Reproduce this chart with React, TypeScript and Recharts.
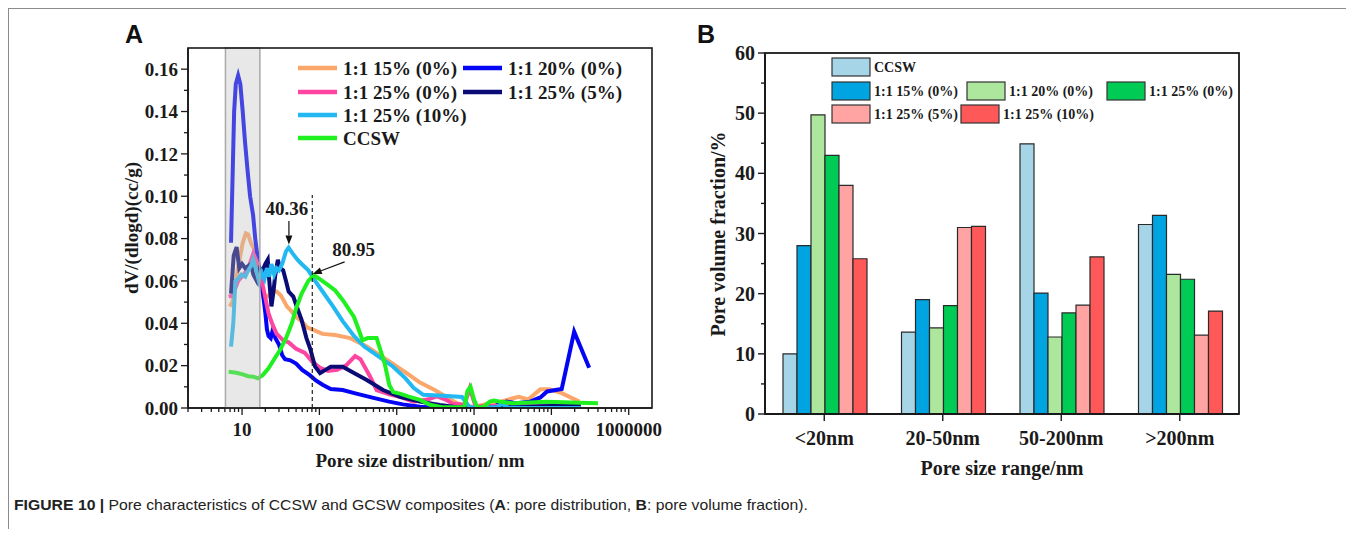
import {
  LineChart,
  Line,
  XAxis,
  YAxis,
  ReferenceArea,
  ReferenceLine,
  BarChart,
  Bar,
} from "recharts";

// Figure 10 — pore characteristics of CCSW / GCSW composites.
// Panel A: pore size distribution (log x), panel B: pore volume fraction bars.

type Pt = { x: number; y: number };

// ---- Panel A series (x = pore size / nm, y = dV/(dlogd) cc/g)
const s15_0: Pt[] = [
  { x: 6.9, y: 0.048 }, { x: 7.5, y: 0.05 }, { x: 8.5, y: 0.062 }, { x: 9.5, y: 0.072 },
  { x: 10.2, y: 0.078 }, { x: 11.2, y: 0.0825 }, { x: 12, y: 0.082 }, { x: 13, y: 0.078 },
  { x: 14.5, y: 0.0746 }, { x: 15.5, y: 0.068 }, { x: 17, y: 0.062 }, { x: 18, y: 0.056 },
  { x: 19, y: 0.052 }, { x: 22, y: 0.053 }, { x: 25, y: 0.055 }, { x: 28, y: 0.055 },
  { x: 32, y: 0.053 }, { x: 38, y: 0.048 }, { x: 44, y: 0.0455 }, { x: 50, y: 0.043 },
  { x: 59, y: 0.041 }, { x: 70, y: 0.038 }, { x: 88, y: 0.0365 }, { x: 110, y: 0.035 },
  { x: 160, y: 0.0345 }, { x: 250, y: 0.033 }, { x: 410, y: 0.029 }, { x: 750, y: 0.0227 },
  { x: 1350, y: 0.0164 }, { x: 2000, y: 0.012 }, { x: 3100, y: 0.0085 }, { x: 4500, y: 0.005 },
  { x: 6000, y: 0.0023 }, { x: 8000, y: 0.001 }, { x: 10000, y: 0.0005 }, { x: 15000, y: 0.002 },
  { x: 22000, y: 0.003 }, { x: 31000, y: 0.0045 }, { x: 38000, y: 0.0053 }, { x: 50000, y: 0.004 },
  { x: 72000, y: 0.0088 }, { x: 95000, y: 0.0088 }, { x: 136000, y: 0.007 }, { x: 230000, y: 0.003 },
];

const s20_0: Pt[] = [
  { x: 7.2, y: 0.078 }, { x: 7.9, y: 0.14 }, { x: 8.3, y: 0.153 }, { x: 8.9, y: 0.157 },
  { x: 9.5, y: 0.153 }, { x: 10.2, y: 0.14 }, { x: 10.9, y: 0.126 }, { x: 11.8, y: 0.112 },
  { x: 12.7, y: 0.1 }, { x: 13.9, y: 0.091 }, { x: 14.8, y: 0.08 }, { x: 16, y: 0.07 },
  { x: 17, y: 0.064 }, { x: 18.5, y: 0.055 }, { x: 20, y: 0.045 }, { x: 21, y: 0.037 },
  { x: 22, y: 0.034 }, { x: 23.5, y: 0.033 }, { x: 25, y: 0.037 }, { x: 27, y: 0.033 },
  { x: 30, y: 0.03 }, { x: 33, y: 0.025 }, { x: 36, y: 0.023 }, { x: 42, y: 0.0225 },
  { x: 50, y: 0.021 }, { x: 60, y: 0.018 }, { x: 75, y: 0.0155 }, { x: 90, y: 0.013 },
  { x: 110, y: 0.011 }, { x: 140, y: 0.009 }, { x: 200, y: 0.0085 }, { x: 300, y: 0.0068 },
  { x: 500, y: 0.0048 }, { x: 800, y: 0.003 }, { x: 1200, y: 0.0017 }, { x: 2000, y: 0.0006 },
  { x: 3500, y: 0 }, { x: 10000, y: 0 }, { x: 17700, y: 0.0005 }, { x: 22000, y: 0.0022 },
  { x: 26500, y: 0.003 }, { x: 35000, y: 0.0022 }, { x: 53000, y: 0.003 }, { x: 72000, y: 0.005 },
  { x: 88000, y: 0.0078 }, { x: 136000, y: 0.009 }, { x: 197000, y: 0.036 }, { x: 308000, y: 0.019 },
];

const s25_0: Pt[] = [
  { x: 6.7, y: 0.0526 }, { x: 7.5, y: 0.053 }, { x: 8.9, y: 0.06 }, { x: 10.5, y: 0.063 },
  { x: 12, y: 0.066 }, { x: 14, y: 0.073 }, { x: 15.5, y: 0.069 }, { x: 17, y: 0.064 },
  { x: 19, y: 0.056 }, { x: 22, y: 0.0447 }, { x: 25, y: 0.039 }, { x: 28, y: 0.035 },
  { x: 34, y: 0.032 }, { x: 40, y: 0.031 }, { x: 50, y: 0.028 }, { x: 65, y: 0.026 },
  { x: 80, y: 0.022 }, { x: 102, y: 0.019 }, { x: 130, y: 0.0175 }, { x: 170, y: 0.018 },
  { x: 220, y: 0.02 }, { x: 290, y: 0.0245 }, { x: 340, y: 0.023 }, { x: 450, y: 0.015 },
  { x: 550, y: 0.0085 }, { x: 800, y: 0.0065 }, { x: 1100, y: 0.0053 }, { x: 1650, y: 0.003 },
  { x: 2500, y: 0.004 }, { x: 3300, y: 0.0055 }, { x: 4300, y: 0.004 }, { x: 5300, y: 0.002 },
  { x: 7500, y: 0.0015 }, { x: 8800, y: 0.0093 }, { x: 10500, y: 0.0006 }, { x: 15000, y: 0.001 },
  { x: 50000, y: 0.0008 }, { x: 240000, y: 0.0008 },
];

const s25_5: Pt[] = [
  { x: 7.2, y: 0.054 }, { x: 7.8, y: 0.072 }, { x: 8.5, y: 0.076 }, { x: 9.2, y: 0.066 },
  { x: 10, y: 0.068 }, { x: 11, y: 0.066 }, { x: 12, y: 0.067 }, { x: 13, y: 0.068 },
  { x: 14, y: 0.063 }, { x: 15.5, y: 0.06 }, { x: 17, y: 0.066 }, { x: 18.5, y: 0.065 },
  { x: 20, y: 0.068 }, { x: 21.5, y: 0.07 }, { x: 22.5, y: 0.06 }, { x: 24, y: 0.048 },
  { x: 25.5, y: 0.055 }, { x: 26.7, y: 0.062 }, { x: 29, y: 0.07 }, { x: 31, y: 0.066 },
  { x: 34, y: 0.065 }, { x: 37, y: 0.06 }, { x: 40, y: 0.055 }, { x: 46, y: 0.0526 },
  { x: 52, y: 0.047 }, { x: 59, y: 0.0415 }, { x: 68, y: 0.033 }, { x: 76, y: 0.028 },
  { x: 88, y: 0.0195 }, { x: 102, y: 0.0165 }, { x: 120, y: 0.018 }, { x: 140, y: 0.0195 },
  { x: 200, y: 0.0195 }, { x: 280, y: 0.0165 }, { x: 410, y: 0.0132 }, { x: 665, y: 0.0085 },
  { x: 1100, y: 0.0053 }, { x: 2000, y: 0.003 }, { x: 3600, y: 0.0014 }, { x: 6000, y: 0.0004 },
  { x: 10000, y: 0 }, { x: 30000, y: 0.0005 }, { x: 100000, y: 0.001 }, { x: 240000, y: 0.0015 },
];

const s25_10: Pt[] = [
  { x: 7.2, y: 0.029 }, { x: 7.7, y: 0.04 }, { x: 8.2, y: 0.06 }, { x: 8.9, y: 0.061 },
  { x: 9.8, y: 0.063 }, { x: 11, y: 0.062 }, { x: 12, y: 0.065 }, { x: 13, y: 0.067 },
  { x: 13.9, y: 0.07 }, { x: 15, y: 0.066 }, { x: 16.5, y: 0.06 }, { x: 18, y: 0.064 },
  { x: 19.5, y: 0.061 }, { x: 21, y: 0.066 }, { x: 22.5, y: 0.062 }, { x: 24, y: 0.068 },
  { x: 26, y: 0.063 }, { x: 28, y: 0.066 }, { x: 30, y: 0.065 }, { x: 33, y: 0.068 },
  { x: 37, y: 0.074 }, { x: 40, y: 0.0757 }, { x: 45, y: 0.073 }, { x: 52, y: 0.07 },
  { x: 59, y: 0.068 }, { x: 72, y: 0.065 }, { x: 88, y: 0.06 }, { x: 110, y: 0.055 },
  { x: 150, y: 0.048 }, { x: 200, y: 0.041 }, { x: 280, y: 0.034 }, { x: 380, y: 0.029 },
  { x: 500, y: 0.026 }, { x: 900, y: 0.0195 }, { x: 1300, y: 0.014 }, { x: 1650, y: 0.0095 },
  { x: 2200, y: 0.0062 }, { x: 4000, y: 0.0058 }, { x: 7000, y: 0.0052 }, { x: 8700, y: 0.0005 },
  { x: 12000, y: 0 }, { x: 20000, y: 0.0005 }, { x: 23000, y: 0.002 }, { x: 27000, y: 0.0003 },
  { x: 50000, y: 0 }, { x: 240000, y: 0 },
];

const ccsw: Pt[] = [
  { x: 6.7, y: 0.0171 }, { x: 8, y: 0.0168 }, { x: 8.9, y: 0.0164 }, { x: 10, y: 0.016 },
  { x: 12, y: 0.015 }, { x: 14, y: 0.0148 }, { x: 16, y: 0.014 }, { x: 18.5, y: 0.0155 },
  { x: 22, y: 0.0187 }, { x: 26, y: 0.023 }, { x: 31, y: 0.0274 }, { x: 37, y: 0.033 },
  { x: 44, y: 0.04 }, { x: 50, y: 0.047 }, { x: 59, y: 0.054 }, { x: 72, y: 0.06 },
  { x: 85, y: 0.0628 }, { x: 100, y: 0.061 }, { x: 130, y: 0.058 }, { x: 160, y: 0.0555 },
  { x: 200, y: 0.051 }, { x: 280, y: 0.043 }, { x: 330, y: 0.036 }, { x: 360, y: 0.032 },
  { x: 420, y: 0.033 }, { x: 550, y: 0.033 }, { x: 620, y: 0.027 }, { x: 700, y: 0.021 },
  { x: 800, y: 0.011 }, { x: 900, y: 0.0075 }, { x: 1100, y: 0.0068 }, { x: 1400, y: 0.0055 },
  { x: 2000, y: 0.0038 }, { x: 2700, y: 0.0015 }, { x: 4000, y: 0.0003 }, { x: 7500, y: 0.0003 },
  { x: 8200, y: 0.008 }, { x: 9000, y: 0.01 }, { x: 10000, y: 0.004 }, { x: 11000, y: 0.0005 },
  { x: 13000, y: 0.0003 }, { x: 16000, y: 0.003 }, { x: 18000, y: 0.0035 }, { x: 22000, y: 0.003 },
  { x: 31000, y: 0.0023 }, { x: 88000, y: 0.003 }, { x: 230000, y: 0.0025 }, { x: 400000, y: 0.0022 },
];

const xMajorA = [10, 100, 1000, 10000, 100000, 1000000];
const yTicksA = [0, 0.01, 0.02, 0.03, 0.04, 0.05, 0.06, 0.07, 0.08, 0.09, 0.1, 0.11, 0.12, 0.13, 0.14, 0.15, 0.16];

// ---- Panel B (pore volume fraction, %)
const categories = ["<20nm", "20-50nm", "50-200nm", ">200nm"];
const pctCCSW = [10, 13.6, 44.9, 31.5];
const pct15_0 = [28, 19, 20.1, 33];
const pct20_0 = [49.7, 14.3, 12.8, 23.2];
const pct25_0 = [43, 18, 16.8, 22.4];
const pct25_5 = [38, 31, 18.1, 13.1];
const pct25_10 = [25.8, 31.2, 26.1, 17.1];
const yTicksB = [0, 5, 10, 15, 20, 25, 30, 35, 40, 45, 50, 55, 60];

const serif = "'Liberation Serif', 'Times New Roman', serif";
const sans = "'Liberation Sans', Arial, sans-serif";
const ink = "#1a1a1a";

const seriesA = [
  { name: "1:1 15% (0%)", data: s15_0, color: "#fba66a" },
  { name: "1:1 20% (0%)", data: s20_0, color: "#0505f5" },
  { name: "1:1 25% (0%)", data: s25_0, color: "#ff45a2" },
  { name: "1:1 25% (5%)", data: s25_5, color: "#0b0b78" },
  { name: "1:1 25% (10%)", data: s25_10, color: "#22b8f2" },
  { name: "CCSW", data: ccsw, color: "#1ff01f" },
];

const seriesB = [
  { key: "ccsw", name: "CCSW", values: pctCCSW, color: "#a6d5e8" },
  { key: "p15", name: "1:1 15% (0%)", values: pct15_0, color: "#00a4e0" },
  { key: "p20", name: "1:1 20% (0%)", values: pct20_0, color: "#ade69d" },
  { key: "p25", name: "1:1 25% (0%)", values: pct25_0, color: "#00cc55" },
  { key: "p25_5", name: "1:1 25% (5%)", values: pct25_5, color: "#ffa3a3" },
  { key: "p25_10", name: "1:1 25% (10%)", values: pct25_10, color: "#ff5858" },
];

const barData = categories.map((cat, i) => {
  const row: Record<string, string | number> = { cat };
  seriesB.forEach((s) => (row[s.key] = s.values[i]));
  return row;
});

// minor log ticks 2..9 of every decade, labels only on the powers of ten
const xTicksA = [1, ...xMajorA.slice(0, 5)].flatMap((d) =>
  [2, 3, 4, 5, 6, 7, 8, 9, 10].map((m) => m * d)
);

// chart geometry (root coordinates) — the plot frames are drawn from these
const A = { w: 660, h: 470, top: 40, right: 16, bottom: 40, left: 120, yw: 60, xh: 30 };
const B = { x: 672, w: 580, h: 470, top: 45, right: 21, bottom: 34, left: 35, yw: 50, xh: 30 };

const LogTick = (props: any) => {
  const { x, y, payload } = props;
  const v = payload.value;
  const major = xMajorA.includes(v);
  return (
    <g>
      <line x1={x} x2={x} y1={y} y2={y + (major ? 7 : 4)} stroke={ink} strokeWidth={1.3} />
      {major && (
        <text x={x} y={y + 28} textAnchor="middle" fontFamily={serif} fontWeight="bold" fontSize={19} fill={ink}>
          {v}
        </text>
      )}
    </g>
  );
};

const YTickA = (props: any) => {
  const { x, y, payload } = props;
  const v = payload.value;
  const major = Math.round(v * 100) % 2 === 0;
  return (
    <g>
      <line x1={x - (major ? 7 : 4)} x2={x} y1={y} y2={y} stroke={ink} strokeWidth={1.3} />
      {major && (
        <text x={x - 10} y={y} dy="0.35em" textAnchor="end" fontFamily={serif} fontWeight="bold" fontSize={19} fill={ink}>
          {v.toFixed(2)}
        </text>
      )}
    </g>
  );
};

const YTickB = (props: any) => {
  const { x, y, payload } = props;
  const v = payload.value;
  const major = v % 10 === 0;
  return (
    <g>
      <line x1={x - (major ? 7 : 4)} x2={x} y1={y} y2={y} stroke={ink} strokeWidth={1.4} />
      {major && (
        <text x={x - 10} y={y} dy="0.35em" textAnchor="end" fontFamily={serif} fontWeight="bold" fontSize={20} fill={ink}>
          {v}
        </text>
      )}
    </g>
  );
};

const CatTick = (props: any) => {
  const { x, y, payload } = props;
  return (
    <g>
      <line x1={x} x2={x} y1={y} y2={y + 7} stroke={ink} strokeWidth={1.4} />
      <text x={x} y={y + 31} textAnchor="middle" fontFamily={serif} fontWeight="bold" fontSize={20} fill={ink}>
        {payload.value}
      </text>
    </g>
  );
};

// arrow + value label drawn on a ReferenceLine segment
const arrowShape = (label: string, dx: number, dy: number) => (p: any) => {
  const { x1, y1, x2, y2 } = p;
  const a = Math.atan2(y2 - y1, x2 - x1);
  const L = 9;
  const W = 3.5;
  const bx = x2 - L * Math.cos(a);
  const by = y2 - L * Math.sin(a);
  const pts = `${x2},${y2} ${bx + W * Math.sin(a)},${by - W * Math.cos(a)} ${bx - W * Math.sin(a)},${by + W * Math.cos(a)}`;
  return (
    <g>
      <line x1={x1} y1={y1} x2={bx} y2={by} stroke="#111" strokeWidth={1.2} />
      <polygon points={pts} fill="#111" />
      <text x={x1 + dx} y={y1 + dy} textAnchor="middle" fontFamily={serif} fontWeight="bold" fontSize={19} fill={ink}>
        {label}
      </text>
    </g>
  );
};

// legend layout (root coordinates)
const legendAcols = [290, 455];
const legendArows = [60, 84, 107, 130];
const legendAslots = [[0, 0], [1, 0], [0, 1], [1, 1], [0, 2], [0, 3]];
const legendBpos = [[824, 50], [824, 74], [959, 74], [1099, 74], [824, 97], [953, 97]];

export default function App() {
  const aX = A.left + A.yw;
  const aY = A.top;
  const aW = A.w - A.right - aX;
  const aH = A.h - A.bottom - A.xh - A.top;
  const bX = B.x + B.left + B.yw;
  const bY = B.top;
  const bW = B.w - B.right - B.left - B.yw;
  const bH = B.h - B.bottom - B.xh - B.top;

  return (
    <div style={{ position: "relative", width: 1338, height: 521 }}>
      <style>{"body{overflow:hidden}"}</style>
      <div
        style={{
          position: "absolute", left: 0, top: 0, width: 1341, height: 600,
          borderTop: "1px solid #8c8c8c", borderLeft: "1px solid #8c8c8c", borderRight: "1px solid #8c8c8c",
        }}
      />

      {/* Panel A */}
      <div style={{ position: "absolute", left: 0, top: 0 }}>
        <LineChart
          width={A.w} height={A.h}
          margin={{ top: A.top, right: A.right, bottom: A.bottom, left: A.left }}
        >
          <XAxis
            dataKey="x" type="number" scale="log" domain={[2, 2000000]} allowDataOverflow
            ticks={xTicksA} interval={0} tick={<LogTick />} tickLine={false} tickSize={0} tickMargin={0}
            height={A.xh} axisLine={{ stroke: ink, strokeWidth: 1.6 }}
          />
          <YAxis
            type="number" domain={[0, 0.17]} allowDataOverflow ticks={yTicksA} interval={0}
            tick={<YTickA />} tickLine={false} tickSize={0} tickMargin={0} width={A.yw}
            axisLine={{ stroke: ink, strokeWidth: 1.6 }}
          />
          {seriesA.map((s) => (
            <Line
              key={s.name} data={s.data} dataKey="y" name={s.name} type="linear"
              stroke={s.color} strokeWidth={4} dot={false} isAnimationActive={false}
            />
          ))}
          <ReferenceArea
            x1={6.1} x2={17} fill="#bdbdbd" fillOpacity={0.35} stroke="#a9a9a9" strokeWidth={1.5}
            zIndex={600}
          />
          <ReferenceLine
            segment={[{ x: 80.95, y: 0 }, { x: 80.95, y: 0.1006 }]}
            stroke="#222" strokeWidth={1.2} strokeDasharray="4 3"
          />
          <ReferenceLine
            segment={[{ x: 40.36, y: 0.0883 }, { x: 40.36, y: 0.0772 }]}
            shape={arrowShape("40.36", -2, -6)}
          />
          <ReferenceLine
            segment={[{ x: 212, y: 0.069 }, { x: 82, y: 0.0633 }]}
            shape={arrowShape("80.95", 9, -6)}
          />
        </LineChart>
      </div>

      {/* Panel B */}
      <div style={{ position: "absolute", left: B.x, top: 0 }}>
        <BarChart
          width={B.w} height={B.h} data={barData} barCategoryGap={18} barGap={0}
          margin={{ top: B.top, right: B.right, bottom: B.bottom, left: B.left }}
        >
          <XAxis
            dataKey="cat" tick={<CatTick />} tickLine={false} tickSize={0} tickMargin={0} interval={0}
            height={B.xh} axisLine={{ stroke: ink, strokeWidth: 1.8 }}
          />
          <YAxis
            type="number" domain={[0, 60]} ticks={yTicksB} interval={0} tick={<YTickB />}
            tickLine={false} tickSize={0} tickMargin={0} width={B.yw} axisLine={{ stroke: ink, strokeWidth: 1.8 }}
          />
          {seriesB.map((s) => (
            <Bar
              key={s.key} dataKey={s.key} name={s.name} fill={s.color}
              stroke="#2a2a2a" strokeWidth={1.2} isAnimationActive={false}
            />
          ))}
        </BarChart>
      </div>

      {/* frames, titles, legends, caption */}
      <svg
        width={1338} height={529}
        style={{ position: "absolute", left: 0, top: 0, pointerEvents: "none", overflow: "visible" }}
      >
        <rect x={aX} y={aY} width={aW} height={aH} fill="none" stroke={ink} strokeWidth={1.6} />
        <rect x={bX} y={bY} width={bW} height={bH} fill="none" stroke={ink} strokeWidth={1.8} />

        <text x={117} y={35} fontFamily={sans} fontWeight="bold" fontSize={25} fill="#111">A</text>
        <text x={689} y={35} fontFamily={sans} fontWeight="bold" fontSize={25} fill="#111">B</text>

        <text x={412} y={459} textAnchor="middle" fontFamily={serif} fontWeight="bold" fontSize={19} fill={ink}>
          Pore size distribution/ nm
        </text>
        <text
          x={130} y={220} textAnchor="middle" transform="rotate(-90 130 220)"
          fontFamily={serif} fontWeight="bold" fontSize={19} fill={ink}
        >
          dV/(dlogd)(cc/g)
        </text>
        <text x={994} y={467} textAnchor="middle" fontFamily={serif} fontWeight="bold" fontSize={20} fill={ink}>
          Pore size range/nm
        </text>
        <text
          x={717} y={226} textAnchor="middle" transform="rotate(-90 717 226)"
          fontFamily={serif} fontWeight="bold" fontSize={20} fill={ink}
        >
          Pore volume fraction/%
        </text>

        {seriesA.map((s, i) => {
          const [c, r] = legendAslots[i];
          const lx = legendAcols[c];
          const cy = legendArows[r];
          return (
            <g key={s.name}>
              <line x1={lx} x2={lx + 39} y1={cy} y2={cy} stroke={s.color} strokeWidth={4.5} />
              <text x={lx + 45} y={cy} dy="0.35em" fontFamily={serif} fontWeight="bold" fontSize={19} fill={ink}>
                {s.name}
              </text>
            </g>
          );
        })}

        {seriesB.map((s, i) => {
          const [bx, by] = legendBpos[i];
          return (
            <g key={s.key}>
              <rect x={bx} y={by} width={38} height={18} fill={s.color} stroke="#333" strokeWidth={1.2} />
              <text x={bx + 42} y={by + 9} dy="0.35em" fontFamily={serif} fontWeight="bold" fontSize={14} fill={ink}>
                {s.name}
              </text>
            </g>
          );
        })}

        <text x={6} y={502} fontFamily={sans} fontSize={15} fill="#222" textLength={794} lengthAdjust="spacingAndGlyphs">
          <tspan fontWeight="bold">FIGURE 10 | </tspan>
          Pore characteristics of CCSW and GCSW composites (<tspan fontWeight="bold">A</tspan>: pore distribution,{" "}
          <tspan fontWeight="bold">B</tspan>: pore volume fraction).
        </text>
      </svg>
    </div>
  );
}
